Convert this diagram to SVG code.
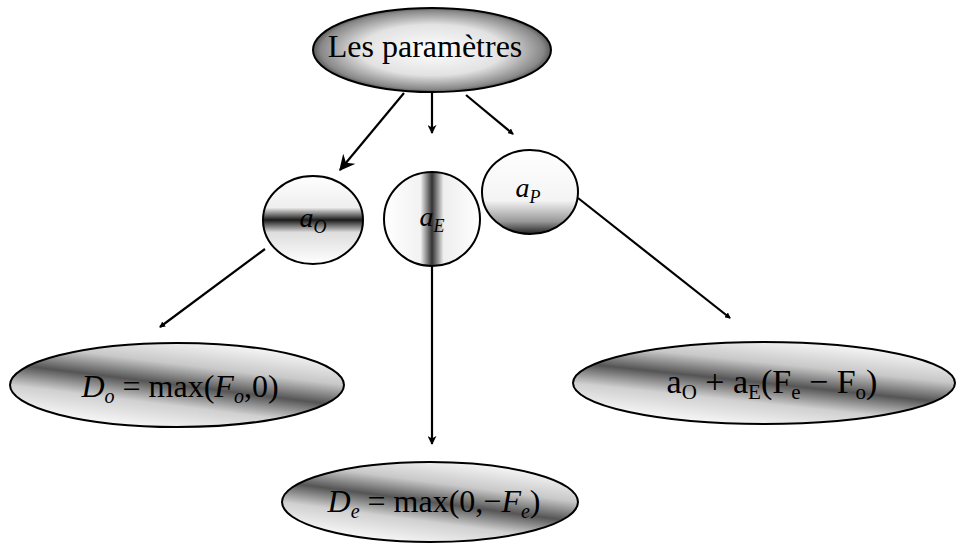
<svg xmlns="http://www.w3.org/2000/svg" width="960" height="545" viewBox="0 0 960 545">
<style>
.edge{fill:none;stroke:#000;stroke-width:2.2}
.node{stroke:#000;stroke-width:2}
.t{font-family:"Liberation Serif",serif;fill:#000}
.m{font-family:"Liberation Serif",serif;font-style:italic;fill:#000}
</style>
<defs>
<radialGradient id="gTop" cx="0.5" cy="0.5" r="0.55">
<stop offset="0" stop-color="#ffffff"/>
<stop offset="0.55" stop-color="#e2e2e2"/>
<stop offset="0.85" stop-color="#888"/>
<stop offset="1" stop-color="#111"/>
</radialGradient>
<linearGradient id="gO" x1="0" y1="0" x2="0" y2="1">
<stop offset="0" stop-color="#fff"/>
<stop offset="0.36" stop-color="#eee"/>
<stop offset="0.5" stop-color="#1a1a1a"/>
<stop offset="0.64" stop-color="#ddd"/>
<stop offset="1" stop-color="#fff"/>
</linearGradient>
<linearGradient id="gE" x1="0" y1="0" x2="1" y2="0">
<stop offset="0" stop-color="#fff"/>
<stop offset="0.38" stop-color="#f2f2f2"/>
<stop offset="0.5" stop-color="#333"/>
<stop offset="0.62" stop-color="#eee"/>
<stop offset="1" stop-color="#fff"/>
</linearGradient>
<linearGradient id="gP" x1="0" y1="0" x2="0" y2="1">
<stop offset="0" stop-color="#fff"/>
<stop offset="0.6" stop-color="#f4f4f4"/>
<stop offset="0.85" stop-color="#999"/>
<stop offset="1" stop-color="#222"/>
</linearGradient>
<linearGradient id="gD" x1="0.25" y1="1" x2="0.75" y2="0">
<stop offset="0" stop-color="#fff"/>
<stop offset="0.3" stop-color="#d0d0d0"/>
<stop offset="0.5" stop-color="#555"/>
<stop offset="0.7" stop-color="#c8c8c8"/>
<stop offset="1" stop-color="#fff"/>
</linearGradient>
<marker id="ah" viewBox="0 0 10 10" refX="9" refY="5" markerWidth="9" markerHeight="9" markerUnits="userSpaceOnUse" orient="auto">
<path d="M0,0 L10,5 L0,10 L3,5 Z" fill="#000"/>
</marker>
<marker id="big" viewBox="0 0 12 12" refX="11" refY="6" markerWidth="16" markerHeight="16" markerUnits="userSpaceOnUse" orient="auto">
<path d="M0,0 L12,6 L0,12 L4,6 Z" fill="#000"/>
</marker>
<marker id="tick" viewBox="0 0 6 6" refX="5" refY="3" markerWidth="6" markerHeight="6" markerUnits="userSpaceOnUse" orient="auto">
<path d="M0,0 L6,3 L0,6 Z" fill="#000"/>
</marker>
</defs>

<g id="connectors">
<path class="edge" d="M404,93 L340,170" marker-end="url(#big)"/>
<path class="edge" d="M432,93 L432,133" marker-end="url(#ah)"/>
<path class="edge" d="M466,95 L513,134" marker-end="url(#tick)"/>
<path class="edge" d="M265,249 L160,327" marker-end="url(#tick)"/>
<path class="edge" d="M432,266 L432,444" marker-end="url(#ah)"/>
<path class="edge" d="M578,198 L730,318" marker-end="url(#tick)"/>
</g>

<g id="node-parametres">
<ellipse class="node" cx="432" cy="50" rx="119" ry="42" fill="url(#gTop)" stroke-width="3"/>
<text class="t" x="425" y="57" font-size="32" text-anchor="middle">Les paramètres</text>
</g>

<g id="node-aO">
<ellipse class="node" cx="313" cy="220" rx="50" ry="44" fill="url(#gO)"/>
<text class="m" x="313" y="227" font-size="28" text-anchor="middle">a<tspan font-size="18" dy="6">O</tspan></text>
</g>

<g id="node-aE">
<ellipse class="node" cx="432" cy="219" rx="48" ry="47" fill="url(#gE)"/>
<text class="m" x="432" y="226" font-size="28" text-anchor="middle">a<tspan font-size="18" dy="6">E</tspan></text>
</g>

<g id="node-aP">
<ellipse class="node" cx="530" cy="192" rx="48" ry="42" fill="url(#gP)"/>
<text class="m" x="528" y="197" font-size="28" text-anchor="middle">a<tspan font-size="18" dy="6">P</tspan></text>
</g>

<g id="node-Do">
<ellipse class="node" cx="177" cy="385" rx="167" ry="42" fill="url(#gD)"/>
<text class="t" x="180" y="397" font-size="32" text-anchor="middle"><tspan font-style="italic">D</tspan><tspan font-style="italic" font-size="20" dy="6">o</tspan><tspan dy="-6"> = max(</tspan><tspan font-style="italic">F</tspan><tspan font-style="italic" font-size="20" dy="6">o</tspan><tspan dy="-6">,0)</tspan></text>
</g>

<g id="node-De">
<ellipse class="node" cx="430" cy="502" rx="148" ry="40" fill="url(#gD)"/>
<text class="t" x="434" y="512" font-size="32" text-anchor="middle"><tspan font-style="italic">D</tspan><tspan font-style="italic" font-size="20" dy="6">e</tspan><tspan dy="-6"> = max(0,−</tspan><tspan font-style="italic">F</tspan><tspan font-style="italic" font-size="20" dy="6">e</tspan><tspan dy="-6">)</tspan></text>
</g>

<g id="node-aO-formula">
<ellipse class="node" cx="764" cy="383" rx="191" ry="41" fill="url(#gD)"/>
<text class="t" x="772" y="393" font-size="34" text-anchor="middle">a<tspan font-size="21" dy="6">O</tspan><tspan dy="-6"> + a</tspan><tspan font-size="21" dy="6">E</tspan><tspan dy="-6">(F</tspan><tspan font-size="21" dy="6">e</tspan><tspan dy="-6"> − F</tspan><tspan font-size="21" dy="6">o</tspan><tspan dy="-6">)</tspan></text>
</g>
</svg>
